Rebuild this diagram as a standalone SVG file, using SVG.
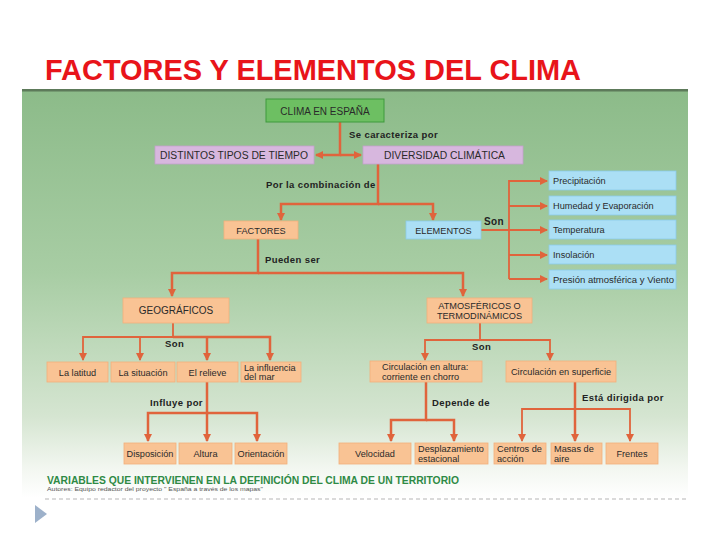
<svg xmlns="http://www.w3.org/2000/svg" width="720" height="540" viewBox="0 0 720 540">
<style>
text{font-family:"Liberation Sans",Arial,sans-serif;fill:#2a2a2a}
.n{font-size:10px}
.s{font-size:9.2px}
.lb{font-size:9.5px;font-weight:bold;fill:#222;letter-spacing:0.4px}
.or{fill:#f9c394;stroke:#f3b07a;stroke-width:0.8}
.bl{fill:#abdff5;stroke:#8ccbe8;stroke-width:0.8}
.li{fill:#d7b7de;stroke:#c4a0cc;stroke-width:0.8}
.c path{fill:none;stroke:#e0643c;stroke-width:2.5}
.c .t{stroke-width:1.8}
</style>
<defs>
<linearGradient id="bg" x1="0" y1="90" x2="0" y2="498" gradientUnits="userSpaceOnUse">
<stop offset="0" stop-color="#8cbb89"/>
<stop offset="0.45" stop-color="#a8cda4"/>
<stop offset="0.8" stop-color="#d5e5d1"/>
<stop offset="0.93" stop-color="#f3f7f1"/>
<stop offset="1" stop-color="#ffffff"/>
</linearGradient>
<marker id="a" markerUnits="userSpaceOnUse" markerWidth="8" markerHeight="8" viewBox="0 0 8 8" refX="7" refY="4" orient="auto">
<path d="M0,0 L8,4 L0,8 Z" fill="#e0643c"/>
</marker>
</defs>
<rect width="720" height="540" fill="#ffffff"/>
<text x="45" y="80" style="font-size:29px;font-weight:bold;fill:#e8141a" textLength="536" lengthAdjust="spacingAndGlyphs">FACTORES Y ELEMENTOS DEL CLIMA</text>
<rect x="22" y="90" width="666" height="408" fill="url(#bg)"/>
<rect x="22" y="89" width="666" height="2.5" fill="#5d7a5a"/>

<g class="c">
<path d="M340,122 V155 H316" marker-end="url(#a)"/>
<path d="M340,155 H361" marker-end="url(#a)"/>
<path d="M378,164 V204 H281 V220" marker-end="url(#a)"/>
<path d="M378,204 H433 V220" marker-end="url(#a)"/>
<path class="t" d="M481,230 H547" marker-end="url(#a)"/>
<path class="t" d="M509,279 V181 H547" marker-end="url(#a)"/>
<path class="t" d="M509,206 H547" marker-end="url(#a)"/>
<path class="t" d="M509,255 H547" marker-end="url(#a)"/>
<path class="t" d="M509,279 H547" marker-end="url(#a)"/>
<path d="M258,239 V273 H172 V296" marker-end="url(#a)"/>
<path d="M258,273 H463 V296" marker-end="url(#a)"/>
<path class="t" d="M173,323 V337 H83 V360" marker-end="url(#a)"/>
<path class="t" d="M140,337 V360" marker-end="url(#a)"/>
<path d="M207,337 V360" marker-end="url(#a)"/>
<path d="M173,337 H270 V360" marker-end="url(#a)"/>
<path d="M207,382 V413 H148 V441" marker-end="url(#a)"/>
<path d="M207,413 V441" marker-end="url(#a)"/>
<path d="M207,413 H257 V441" marker-end="url(#a)"/>
<path class="t" d="M480,323 V340 H425 V360" marker-end="url(#a)"/>
<path class="t" d="M480,340 H550 V360" marker-end="url(#a)"/>
<path d="M426,382 V420 H391 V441" marker-end="url(#a)"/>
<path d="M426,420 H454 V441" marker-end="url(#a)"/>
<path d="M575,382 V441" marker-end="url(#a)"/>
<path class="t" d="M575,409 H522 V441" marker-end="url(#a)"/>
<path class="t" d="M575,409 H630 V441" marker-end="url(#a)"/>
</g>

<g id="lbls">
<text class="lb" x="349" y="138">Se caracteriza por</text>
<text class="lb" x="266" y="188">Por la combinación de</text>
<text class="lb" x="484" y="225" style="font-size:10px">Son</text>
<text class="lb" x="265" y="263">Pueden ser</text>
<text class="lb" x="165" y="347">Son</text>
<text class="lb" x="150" y="406">Influye por</text>
<text class="lb" x="472" y="350">Son</text>
<text class="lb" x="432" y="406">Depende de</text>
<text class="lb" x="582" y="401">Está dirigida por</text>
</g>

<g id="clima"><rect x="266" y="99" width="118" height="23" fill="#6dbf62" stroke="#3e9a3c" stroke-width="1"/><text class="n" x="325" y="114.5" text-anchor="middle">CLIMA EN ESPAÑA</text></g>
<g id="distintos"><rect class="li" x="155" y="146" width="159" height="18"/><text class="n" x="160" y="159" textLength="148" lengthAdjust="spacingAndGlyphs">DISTINTOS TIPOS DE TIEMPO</text></g>
<g id="diversidad"><rect class="li" x="363" y="146" width="160" height="18"/><text class="n" x="384" y="159" textLength="121" lengthAdjust="spacingAndGlyphs">DIVERSIDAD CLIMÁTICA</text></g>
<g id="factores"><rect class="or" x="224" y="221" width="74" height="18"/><text class="s" x="261" y="233.5" text-anchor="middle">FACTORES</text></g>
<g id="elementos"><rect class="bl" x="406" y="221" width="75" height="18"/><text class="s" x="443.5" y="233.5" text-anchor="middle">ELEMENTOS</text></g>
<g id="precip"><rect class="bl" x="549" y="171" width="127" height="19"/><text class="s" x="553" y="184">Precipitación</text></g>
<g id="humedad"><rect class="bl" x="549" y="196" width="127" height="19"/><text class="s" x="553" y="209">Humedad y Evaporación</text></g>
<g id="temp"><rect class="bl" x="549" y="220" width="127" height="19"/><text class="s" x="553" y="233">Temperatura</text></g>
<g id="insol"><rect class="bl" x="549" y="245" width="127" height="19"/><text class="s" x="553" y="258">Insolación</text></g>
<g id="presion"><rect class="bl" x="549" y="270" width="127" height="19"/><text class="s" x="553" y="283" textLength="121" lengthAdjust="spacingAndGlyphs">Presión atmosférica y Viento</text></g>
<g id="geograficos"><rect class="or" x="123" y="298" width="106" height="25"/><text class="n" x="176" y="314" text-anchor="middle">GEOGRÁFICOS</text></g>
<g id="atmosfericos"><rect class="or" x="427" y="298" width="105" height="25"/><text class="s" x="479.5" y="308.5" text-anchor="middle">ATMOSFÉRICOS O</text><text class="s" x="479.5" y="318.5" text-anchor="middle">TERMODINÁMICOS</text></g>
<g id="latitud"><rect class="or" x="47" y="362" width="61" height="20"/><text class="s" x="77.5" y="375.5" text-anchor="middle">La latitud</text></g>
<g id="situacion"><rect class="or" x="111" y="362" width="64" height="20"/><text class="s" x="143" y="375.5" text-anchor="middle">La situación</text></g>
<g id="relieve"><rect class="or" x="177" y="362" width="61" height="20"/><text class="s" x="207.5" y="375.5" text-anchor="middle">El relieve</text></g>
<g id="influencia"><rect class="or" x="241" y="362" width="60" height="20"/><text class="s" x="244" y="371">La influencia</text><text class="s" x="244" y="380">del mar</text></g>
<g id="disposicion"><rect class="or" x="124" y="443" width="52" height="21"/><text class="s" x="150" y="457" text-anchor="middle">Disposición</text></g>
<g id="altura"><rect class="or" x="179" y="443" width="53" height="21"/><text class="s" x="205.5" y="457" text-anchor="middle">Altura</text></g>
<g id="orientacion"><rect class="or" x="235" y="443" width="52" height="21"/><text class="s" x="261" y="457" text-anchor="middle">Orientación</text></g>
<g id="circaltura"><rect class="or" x="370" y="361" width="112" height="21"/><text class="s" x="382" y="370">Circulación en altura:</text><text class="s" x="382" y="379.5">corriente en chorro</text></g>
<g id="circsup"><rect class="or" x="506" y="361" width="110" height="21"/><text class="s" x="561" y="375" text-anchor="middle">Circulación en superficie</text></g>
<g id="velocidad"><rect class="or" x="339" y="443" width="72" height="21"/><text class="s" x="375" y="457" text-anchor="middle">Velocidad</text></g>
<g id="desplaz"><rect class="or" x="415" y="443" width="73" height="21"/><text class="s" x="418" y="452">Desplazamiento</text><text class="s" x="418" y="461.5">estacional</text></g>
<g id="centros"><rect class="or" x="494" y="443" width="52" height="21"/><text class="s" x="497" y="452">Centros de</text><text class="s" x="497" y="461.5">acción</text></g>
<g id="masas"><rect class="or" x="551" y="443" width="51" height="21"/><text class="s" x="554" y="452">Masas de</text><text class="s" x="554" y="461.5">aire</text></g>
<g id="frentes"><rect class="or" x="606" y="443" width="52" height="21"/><text class="s" x="632" y="457" text-anchor="middle">Frentes</text></g>

<text x="47" y="484" style="font-size:10.5px;font-weight:bold;fill:#2f8a45" textLength="412" lengthAdjust="spacingAndGlyphs">VARIABLES QUE INTERVIENEN EN LA DEFINICIÓN DEL CLIMA DE UN TERRITORIO</text>
<text x="47" y="491" style="font-size:6px;fill:#555" textLength="216" lengthAdjust="spacingAndGlyphs">Autores: Equipo redactor del proyecto " España a través de los mapas"</text>
<line x1="45" y1="499" x2="688" y2="499" stroke="#b5b5b5" stroke-width="1" stroke-dasharray="4,3"/>
<path d="M35,505 L47,514 L35,523 Z" fill="#9db1ca"/>
</svg>
